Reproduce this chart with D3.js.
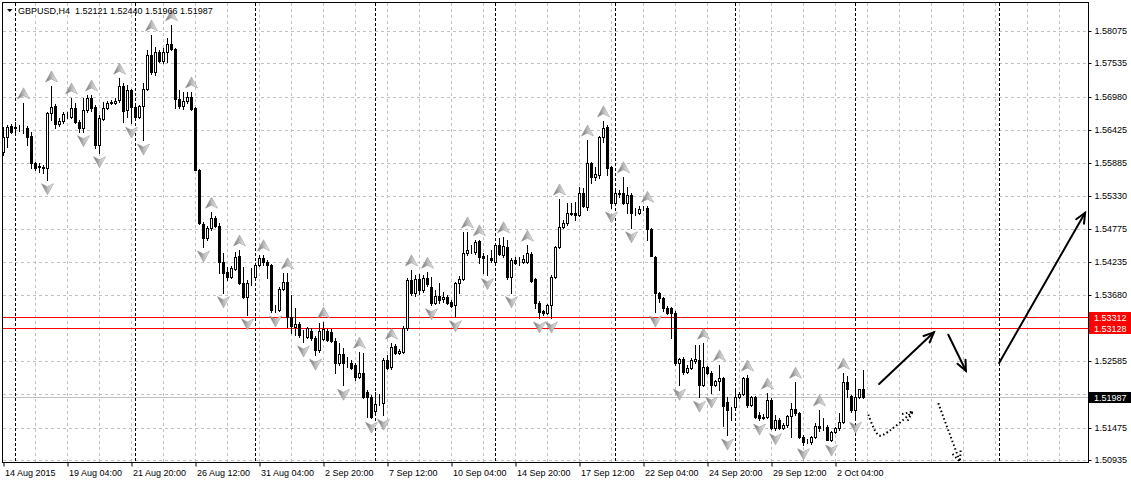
<!DOCTYPE html>
<html lang="en">
<head>
<meta charset="utf-8">
<title>GBPUSD,H4</title>
<script src="https://d3js.org/d3.v7.min.js"></script>
<style>
  body { margin: 0; background: #fff; }
  svg text { font-family: "Liberation Sans", Arial, sans-serif; font-size: 9px; fill: #000; }
</style>
</head>
<body>
<svg width="1131" height="481"></svg>
<script>

/* H4 bars, 14 Aug 2015 12:00 .. 5 Oct 2015 08:00 */
var barOpen = [
  1.5606,1.5631,1.5649,1.5648,1.5646,1.5646,1.5646,1.5633,1.5588,1.5581,
  1.5581,1.5580,1.5671,1.5683,1.5653,1.5658,1.5668,1.5664,1.5679,1.5656,
  1.5646,1.5676,1.5696,1.5681,1.5618,1.5661,1.5679,1.5688,1.5688,1.5693,
  1.5716,1.5676,1.5709,1.5681,1.5664,1.5683,1.5711,1.5768,1.5739,1.5773,
  1.5758,1.5773,1.5786,1.5778,1.5694,1.5683,1.5691,1.5698,1.5679,1.5576,
  1.5486,1.5463,1.5480,1.5496,1.5483,1.5423,1.5406,1.5398,1.5411,1.5433,
  1.5388,1.5365,1.5388,1.5398,1.5418,1.5430,1.5423,1.5418,1.5343,1.5343,
  1.5378,1.5390,1.5332,1.5315,1.5320,1.5302,1.5298,1.5308,1.5297,1.5277,
  1.5295,1.5308,1.5307,1.5292,1.5255,1.5270,1.5255,1.5255,1.5252,1.5232,
  1.5238,1.5207,1.5199,1.5175,1.5186,1.5188,1.5260,1.5248,1.5283,1.5272,
  1.5273,1.5313,1.5393,1.5372,1.5395,1.5377,1.5397,1.5381,1.5355,1.5366,
  1.5361,1.5365,1.5357,1.5352,1.5388,1.5395,1.5438,1.5441,1.5440,1.5458,
  1.5433,1.5430,1.5430,1.5423,1.5451,1.5435,1.5448,1.5398,1.5427,1.5425,
  1.5423,1.5423,1.5436,1.5395,1.5355,1.5341,1.5338,1.5352,1.5398,1.5448,
  1.5481,1.5488,1.5505,1.5505,1.5501,1.5538,1.5515,1.5588,1.5565,1.5568,
  1.5631,1.5648,1.5581,1.5521,1.5538,1.5538,1.5521,1.5535,1.5505,1.5505,
  1.5513,1.5513,1.5478,1.5431,1.5372,1.5363,1.5346,1.5346,1.5338,1.5255,
  1.5262,1.5240,1.5247,1.5258,1.5260,1.5218,1.5248,1.5238,1.5218,1.5225,
  1.5230,1.5190,1.5177,1.5182,1.5199,1.5204,1.5230,1.5185,1.5199,1.5168,
  1.5163,1.5165,1.5194,1.5147,1.5160,1.5147,1.5152,1.5167,1.5178,1.5172,
  1.5132,1.5124,1.5124,1.5132,1.5150,1.5149,1.5149,1.5127,1.5140,1.5147,
  1.5157,1.5223,1.5200,1.5177,1.5199,1.52121
];
var barHigh = [
  1.5648,1.5651,1.5653,1.5656,1.5651,1.5688,1.5649,1.5640,1.5590,1.5588,
  1.5585,1.5673,1.5716,1.5686,1.5663,1.5673,1.5673,1.5696,1.5688,1.5659,
  1.5696,1.5701,1.5701,1.5684,1.5668,1.5689,1.5691,1.5693,1.5696,1.5729,
  1.5721,1.5718,1.5711,1.5684,1.5684,1.5721,1.5776,1.5801,1.5781,1.5776,
  1.5779,1.5796,1.5818,1.5779,1.5709,1.5706,1.5706,1.5706,1.5681,1.5578,
  1.5490,1.5483,1.5506,1.5500,1.5488,1.5438,1.5415,1.5416,1.5440,1.5443,
  1.5415,1.5393,1.5413,1.5421,1.5435,1.5435,1.5427,1.5420,1.5352,1.5381,
  1.5405,1.5405,1.5368,1.5346,1.5323,1.5310,1.5315,1.5313,1.5300,1.5321,
  1.5323,1.5312,1.5312,1.5297,1.5288,1.5280,1.5265,1.5260,1.5255,1.5273,
  1.5272,1.5210,1.5202,1.5207,1.5203,1.5263,1.5268,1.5288,1.5287,1.5278,
  1.5317,1.5397,1.5410,1.5401,1.5403,1.5401,1.5406,1.5398,1.5377,1.5388,
  1.5373,1.5368,1.5360,1.5390,1.5400,1.5473,1.5473,1.5451,1.5460,1.5460,
  1.5438,1.5435,1.5443,1.5455,1.5463,1.5465,1.5460,1.5430,1.5431,1.5431,
  1.5435,1.5451,1.5440,1.5397,1.5358,1.5343,1.5353,1.5401,1.5450,1.5528,
  1.5493,1.5521,1.5521,1.5523,1.5548,1.5546,1.5626,1.5590,1.5581,1.5633,
  1.5658,1.5651,1.5583,1.5546,1.5543,1.5565,1.5548,1.5538,1.5513,1.5516,
  1.5516,1.5516,1.5480,1.5433,1.5373,1.5365,1.5350,1.5348,1.5342,1.5263,
  1.5265,1.5252,1.5263,1.5285,1.5285,1.5288,1.5250,1.5242,1.5227,1.5252,
  1.5232,1.5198,1.5182,1.5210,1.5207,1.5232,1.5235,1.5200,1.5200,1.5173,
  1.5170,1.5205,1.5197,1.5168,1.5163,1.5155,1.5168,1.5188,1.5223,1.5173,
  1.5135,1.5129,1.5134,1.5155,1.5177,1.5163,1.5152,1.5142,1.5149,1.5172,
  1.5238,1.5233,1.5202,1.5227,1.5212,1.52440
];
var barLow = [
  1.5601,1.5615,1.5638,1.5640,1.5641,1.5638,1.5618,1.5580,1.5576,1.5573,
  1.5571,1.5560,1.5659,1.5646,1.5649,1.5654,1.5663,1.5663,1.5654,1.5640,
  1.5640,1.5673,1.5674,1.5613,1.5605,1.5659,1.5678,1.5686,1.5686,1.5689,
  1.5656,1.5664,1.5654,1.5663,1.5663,1.5626,1.5709,1.5736,1.5734,1.5756,
  1.5754,1.5756,1.5776,1.5679,1.5679,1.5678,1.5688,1.5676,1.5576,1.5486,
  1.5448,1.5460,1.5476,1.5481,1.5405,1.5372,1.5393,1.5397,1.5410,1.5386,
  1.5363,1.5335,1.5385,1.5393,1.5416,1.5418,1.5397,1.5340,1.5340,1.5341,
  1.5377,1.5315,1.5305,1.5302,1.5298,1.5290,1.5297,1.5293,1.5268,1.5273,
  1.5293,1.5292,1.5290,1.5238,1.5252,1.5218,1.5248,1.5245,1.5227,1.5230,
  1.5197,1.5165,1.5163,1.5170,1.5185,1.5168,1.5245,1.5245,1.5270,1.5270,
  1.5272,1.5310,1.5368,1.5367,1.5370,1.5373,1.5383,1.5352,1.5353,1.5355,
  1.5357,1.5353,1.5348,1.5332,1.5372,1.5393,1.5435,1.5438,1.5436,1.5421,
  1.5405,1.5402,1.5423,1.5421,1.5435,1.5431,1.5395,1.5372,1.5420,1.5418,
  1.5421,1.5421,1.5390,1.5346,1.5330,1.5335,1.5337,1.5330,1.5397,1.5446,
  1.5480,1.5485,1.5501,1.5493,1.5500,1.5515,1.5510,1.5555,1.5560,1.5563,
  1.5623,1.5568,1.5513,1.5520,1.5531,1.5520,1.5505,1.5480,1.5501,1.5503,
  1.5510,1.5460,1.5433,1.5340,1.5357,1.5341,1.5337,1.5297,1.5252,1.5218,
  1.5237,1.5238,1.5245,1.5255,1.5198,1.5217,1.5237,1.5205,1.5217,1.5210,
  1.5150,1.5135,1.5160,1.5180,1.5197,1.5202,1.5182,1.5183,1.5163,1.5160,
  1.5162,1.5163,1.5145,1.5144,1.5145,1.5145,1.5149,1.5132,1.5168,1.5130,
  1.5119,1.5122,1.5120,1.5130,1.5142,1.5144,1.5127,1.5125,1.5139,1.5144,
  1.5155,1.5198,1.5174,1.5163,1.5197,1.51966
];
var barClose = [
  1.5631,1.5648,1.5640,1.5646,1.5646,1.5646,1.5631,1.5588,1.5580,1.5583,
  1.5580,1.5671,1.5681,1.5653,1.5658,1.5669,1.5668,1.5679,1.5656,1.5646,
  1.5676,1.5696,1.5679,1.5618,1.5663,1.5679,1.5688,1.5689,1.5691,1.5716,
  1.5674,1.5709,1.5681,1.5664,1.5683,1.5711,1.5768,1.5739,1.5773,1.5758,
  1.5773,1.5786,1.5778,1.5694,1.5683,1.5691,1.5698,1.5678,1.5576,1.5488,
  1.5463,1.5480,1.5496,1.5483,1.5423,1.5405,1.5398,1.5413,1.5431,1.5388,
  1.5365,1.5388,1.5388,1.5418,1.5430,1.5423,1.5418,1.5343,1.5343,1.5378,
  1.5390,1.5332,1.5317,1.5320,1.5302,1.5302,1.5313,1.5297,1.5277,1.5308,
  1.5312,1.5293,1.5292,1.5255,1.5270,1.5255,1.5255,1.5247,1.5232,1.5238,
  1.5199,1.5199,1.5165,1.5186,1.5186,1.5260,1.5247,1.5282,1.5272,1.5275,
  1.5313,1.5393,1.5372,1.5395,1.5377,1.5397,1.5386,1.5355,1.5366,1.5360,
  1.5365,1.5355,1.5350,1.5388,1.5395,1.5438,1.5443,1.5441,1.5456,1.5431,
  1.5430,1.5430,1.5427,1.5451,1.5436,1.5450,1.5398,1.5427,1.5421,1.5425,
  1.5428,1.5438,1.5392,1.5355,1.5340,1.5338,1.5352,1.5398,1.5448,1.5481,
  1.5488,1.5505,1.5503,1.5501,1.5538,1.5516,1.5588,1.5565,1.5570,1.5631,
  1.5646,1.5580,1.5521,1.5538,1.5536,1.5521,1.5535,1.5505,1.5505,1.5511,
  1.5513,1.5478,1.5433,1.5372,1.5363,1.5346,1.5338,1.5338,1.5255,1.5262,
  1.5240,1.5247,1.5260,1.5262,1.5218,1.5248,1.5238,1.5218,1.5225,1.5230,
  1.5183,1.5177,1.5177,1.5199,1.5204,1.5230,1.5185,1.5199,1.5165,1.5163,
  1.5165,1.5194,1.5147,1.5160,1.5147,1.5152,1.5167,1.5178,1.5172,1.5132,
  1.5124,1.5124,1.5132,1.5150,1.5147,1.5149,1.5127,1.5140,1.5147,1.5157,
  1.5223,1.5212,1.5177,1.5199,1.5212,1.51987
];

// time labels, one every 16 bars
var xLabels = ["14 Aug 2015", "19 Aug 04:00", "21 Aug 20:00", "26 Aug 12:00", "31 Aug 04:00",
  "2 Sep 20:00", "7 Sep 12:00", "10 Sep 04:00", "14 Sep 20:00", "17 Sep 12:00",
  "22 Sep 04:00", "24 Sep 20:00", "29 Sep 12:00", "2 Oct 04:00"];
var yTicks = [1.58075, 1.57535, 1.56980, 1.56425, 1.55885, 1.55330, 1.54775,
  1.54235, 1.53680, 1.53130, 1.52585, 1.52030, 1.51475, 1.50935];
// week separators (bar index, Monday 00:00)
var separators = [3, 33, 63, 93, 123, 153, 183, 213, 249];
var levels = [1.53312, 1.53128];
var bid = 1.51987;
var title = "GBPUSD,H4  1.52121 1.52440 1.51966 1.51987";

// hand drawn arrows, points as [bar index, price]
var solidArrows = [
  [[218.9, 1.5220], [232.6, 1.5306]],
  [[236.2, 1.5302], [240.6, 1.5242]],
  [[248.9, 1.5255], [270.4, 1.5505]]
];
var dottedArrows = [
  [[216.2, 1.5169], [218.3, 1.5138], [219.3, 1.5134], [227.3, 1.5174]],
  [[233.7, 1.5188], [239.1, 1.5091]]
];

var svg = d3.select("svg"),
    plotL = 2.5, plotR = 1088.5, plotT = 2.5, plotB = 462.5;

var x = d3.scaleLinear().domain([0, 270]).range([3.5, 1083.5]);
var y = d3.scaleLinear().domain([1.50935, 1.58075]).range([460, 31]);
var snap = function(v) { return Math.round(v) + 0.5; };

var defs = svg.append("defs");
defs.append("clipPath").attr("id", "plot")
  .append("rect").attr("x", plotL).attr("y", plotT)
  .attr("width", plotR - plotL).attr("height", plotB - plotT);
var grad = defs.append("linearGradient").attr("id", "frac")
  .attr("x1", 0).attr("x2", 1).attr("y1", 0).attr("y2", 0);
grad.append("stop").attr("offset", 0).attr("stop-color", "#6a6a6a");
grad.append("stop").attr("offset", 0.5).attr("stop-color", "#b8b8b8");
grad.append("stop").attr("offset", 1).attr("stop-color", "#f4f4f4");

var plot = svg.append("g").attr("clip-path", "url(#plot)");

/* grid */
var grid = plot.append("g").attr("stroke", "#c0c0c0").attr("stroke-dasharray", "3,3")
  .attr("shape-rendering", "crispEdges");
grid.selectAll("line.h").data(yTicks).enter().append("line")
  .attr("x1", plotL).attr("x2", plotR)
  .attr("y1", function(d) { return snap(y(d)); })
  .attr("y2", function(d) { return snap(y(d)); });
grid.selectAll("line.v").data(d3.range(8, 272, 8)).enter().append("line")
  .attr("y1", plotT).attr("y2", plotB)
  .attr("x1", function(d) { return x(d); })
  .attr("x2", function(d) { return x(d); });

/* period separators */
plot.append("g").attr("stroke", "#000").attr("stroke-dasharray", "3,2")
  .attr("shape-rendering", "crispEdges")
  .selectAll("line").data(separators).enter().append("line")
  .attr("y1", plotT).attr("y2", plotB)
  .attr("x1", function(d) { return x(d); })
  .attr("x2", function(d) { return x(d); });

/* bid and levels */
plot.append("line").attr("x1", plotL).attr("x2", plotR)
  .attr("y1", snap(y(bid))).attr("y2", snap(y(bid)))
  .attr("stroke", "#c0c0c0").attr("shape-rendering", "crispEdges");
plot.selectAll("line.level").data(levels).enter().append("line")
  .attr("x1", plotL).attr("x2", plotR)
  .attr("y1", function(d) { return snap(y(d)); })
  .attr("y2", function(d) { return snap(y(d)); })
  .attr("stroke", "#ff0000").attr("shape-rendering", "crispEdges");

/* candles */
var bars = plot.append("g").attr("shape-rendering", "crispEdges")
  .selectAll("g").data(d3.range(barOpen.length)).enter().append("g");
bars.append("line")
  .attr("x1", function(i) { return x(i); })
  .attr("x2", function(i) { return x(i); })
  .attr("y1", function(i) { return Math.round(y(barHigh[i])); })
  .attr("y2", function(i) { return Math.round(y(barLow[i])) + 1; })
  .attr("stroke", "#000");
bars.append("rect")
  .attr("x", function(i) { return x(i) - 1; })
  .attr("width", 2)
  .attr("y", function(i) { return snap(y(Math.max(barOpen[i], barClose[i]))); })
  .attr("height", function(i) {
    return snap(y(Math.min(barOpen[i], barClose[i]))) - snap(y(Math.max(barOpen[i], barClose[i])));
  })
  .attr("fill", function(i) { return barClose[i] < barOpen[i] ? "#000" : "#fff"; })
  .attr("stroke", "#000");

/* fractals */
var upFr = [], dnFr = [];
for (var i = 2; i < barHigh.length - 2; i++) {
  if (barHigh[i] >= barHigh[i - 1] && barHigh[i] >= barHigh[i - 2] &&
      barHigh[i] > barHigh[i + 1] && barHigh[i] > barHigh[i + 2]) upFr.push(i);
  if (barLow[i] <= barLow[i - 1] && barLow[i] <= barLow[i - 2] &&
      barLow[i] < barLow[i + 1] && barLow[i] < barLow[i + 2]) dnFr.push(i);
}
var fr = plot.append("g").attr("fill", "url(#frac)").attr("stroke", "#9a9a9a")
  .attr("stroke-width", 0.6);
fr.selectAll("path.up").data(upFr).enter().append("path")
  .attr("d", "M0,-6L6,5L0,2L-6,5Z")
  .attr("transform", function(i) { return "translate(" + x(i) + "," + (y(barHigh[i]) - 9) + ")"; });
fr.selectAll("path.dn").data(dnFr).enter().append("path")
  .attr("d", "M0,6L6,-5L0,-2L-6,-5Z")
  .attr("transform", function(i) { return "translate(" + x(i) + "," + (y(barLow[i]) + 9) + ")"; });

/* drawn arrows */
var line = d3.line().x(function(p) { return x(p[0]); }).y(function(p) { return y(p[1]); });
function head(pts) {
  var a = pts[pts.length - 2], b = pts[pts.length - 1];
  var x1 = x(a[0]), y1 = y(a[1]), x2 = x(b[0]), y2 = y(b[1]);
  var ang = Math.atan2(y1 - y2, x1 - x2), len = 11, spread = 0.42;
  return "M" + (x2 + len * Math.cos(ang + spread)) + "," + (y2 + len * Math.sin(ang + spread)) +
         "L" + x2 + "," + y2 +
         "L" + (x2 + len * Math.cos(ang - spread)) + "," + (y2 + len * Math.sin(ang - spread));
}
var arr = plot.append("g").attr("fill", "none").attr("stroke", "#000")
  .attr("stroke-width", 2).attr("stroke-linecap", "round");
solidArrows.forEach(function(pts) {
  arr.append("path").attr("d", line(pts));
  arr.append("path").attr("d", head(pts));
});
dottedArrows.forEach(function(pts) {
  arr.append("path").attr("d", line.curve(d3.curveCatmullRom)(pts))
    .attr("stroke-dasharray", "1.5,2.5").attr("stroke-linecap", "butt");
  arr.append("path").attr("d", head(pts)).attr("stroke-dasharray", "1.5,2.5")
    .attr("stroke-linecap", "butt");
  line.curve(d3.curveLinear);
});

/* frame */
svg.append("rect").attr("x", plotL).attr("y", plotT)
  .attr("width", plotR - plotL).attr("height", plotB - plotT)
  .attr("fill", "none").attr("stroke", "#000").attr("shape-rendering", "crispEdges");

/* price axis; labels under the price boxes are left out */
var boxed = levels.concat([bid]);
var yAxis = svg.append("g").attr("transform", "translate(" + plotR + ",0)")
  .call(d3.axisRight(y).tickValues(yTicks)
    .tickFormat(function(d) {
      var hidden = boxed.some(function(b) { return Math.abs(y(b) - y(d)) < 9; });
      return hidden ? "" : d3.format(".5f")(d);
    })
    .tickSize(3).tickPadding(3));
yAxis.select(".domain").remove();
yAxis.selectAll("text").attr("fill", "#000").style("font-size", "9px")
  .style("font-family", "'Liberation Sans', Arial, sans-serif");
yAxis.selectAll(".tick").attr("transform", function(d) { return "translate(0," + snap(y(d)) + ")"; });

/* time axis */
var xAxis = svg.append("g").attr("transform", "translate(0," + plotB + ")")
  .call(d3.axisBottom(x).tickValues(xLabels.map(function(d, i) { return i * 16; }))
    .tickFormat(function(d, i) { return xLabels[i]; })
    .tickSize(4).tickPadding(3));
xAxis.select(".domain").remove();
xAxis.selectAll("text").attr("fill", "#000").attr("text-anchor", "start").attr("dx", 1)
  .style("font-size", "9px").style("font-family", "'Liberation Sans', Arial, sans-serif");

/* price labels */
function priceBox(v, bg) {
  var yy = snap(y(v));
  svg.append("rect").attr("x", 1089).attr("y", yy - 5.5).attr("width", 42).attr("height", 11)
    .attr("fill", bg);
  svg.append("text").attr("x", 1094).attr("y", yy).attr("dy", "0.34em")
    .style("fill", "#fff").text(d3.format(".5f")(v));
}
levels.forEach(function(v) { priceBox(v, "#ff0000"); });
priceBox(bid, "#000");

/* title */
svg.append("path").attr("d", "M7,9L12.5,9L9.75,12Z").attr("fill", "#000");
svg.append("text").attr("x", 18).attr("y", 14).attr("xml:space", "preserve")
  .style("white-space", "pre").text(title);

</script>
</body>
</html>
